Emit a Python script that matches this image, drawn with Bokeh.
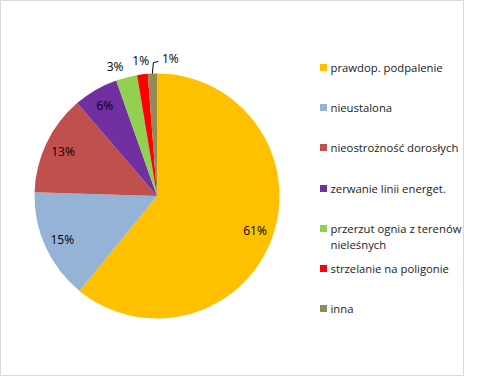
import math
from bokeh.plotting import figure
from bokeh.models import Range1d, ColumnDataSource
from bokeh.core.properties import value
from bokeh.embed import file_html
from bokeh.resources import INLINE

categories = ["prawdop. podpalenie", "nieustalona", "nieostrożność dorosłych",
              "zerwanie linii energet.", "przerzut ognia z terenów\nnieleśnych",
              "strzelanie na poligonie", "inna"]
shares = [60.9, 14.6, 13.2, 5.9, 2.8, 1.4, 1.2]
colors = ["#FFC000", "#95B3D7", "#C0504D", "#7030A0", "#92D050", "#FF0000", "#948A54"]

W, H = 464, 376
def px(x): return x
def py(y): return H - y

p = figure(width=W, height=H, output_backend="svg", toolbar_location=None,
           x_range=Range1d(0, W), y_range=Range1d(0, H), min_border=0)
p.axis.visible = False
p.grid.visible = False
p.outline_line_color = "#D9D9D9"
p.background_fill_color = "white"

cx, cy, R = px(156.5), py(195.5), 122.5
total = sum(shares)
starts, ends, mids = [], [], []
cum = 0.0
for s in shares:
    a0 = math.pi / 2 - 2 * math.pi * cum / total
    cum += s
    a1 = math.pi / 2 - 2 * math.pi * cum / total
    starts.append(a0); ends.append(a1); mids.append((a0 + a1) / 2)

src = ColumnDataSource(dict(start=starts, end=ends, color=colors))
p.wedge(x=cx, y=cy, radius=R, start_angle="start", end_angle="end",
        direction="clock", fill_color="color", line_color=None, source=src)

# labels
nudge = {4: math.radians(3.5)}
lx, ly, lt = [], [], []
for i, (s, m) in enumerate(zip(shares, mids)):
    pct = f"{round(s)}%"
    if s >= 5:
        r = 0.85 * R
        lx.append(cx + r * math.cos(m)); ly.append(cy + r * math.sin(m))
    elif i < len(shares) - 1:
        r = R + 14
        a = m + nudge.get(i, 0.0)
        lx.append(cx + r * math.cos(a)); ly.append(cy + r * math.sin(a))
    else:
        ex, ey = cx + R * math.cos(m), cy + R * math.sin(m)
        p.line([ex, ex + 1, ex + 6], [ey, ey + 11, ey + 12], line_color="black", line_width=1)
        lx.append(ex + 18); ly.append(ey + 15)
    lt.append(pct)
p.text(x=lx, y=ly, text=lt, text_font=value("Open Sans"), text_font_size="12px",
       text_align="center", text_baseline="middle", text_color="black")

# legend
leg_y = [67, 107, 147, 188, 228, 268, 308]
sq_x = px(323)
p.rect(x=[sq_x] * 7, y=[py(v) for v in leg_y], width=7, height=7,
       fill_color=colors, line_color=None)
tx, ty, tt = [], [], []
for cat, yy in zip(categories, leg_y):
    for j, line in enumerate(cat.split("\n")):
        tx.append(px(330)); ty.append(py(yy + 16 * j)); tt.append(line)
p.text(x=tx, y=ty, text=tt, text_font=value("Open Sans"), text_font_size="11.3px",
       text_align="left", text_baseline="middle", text_color="#222222")

open("out.html", "w").write(file_html(p, INLINE))
